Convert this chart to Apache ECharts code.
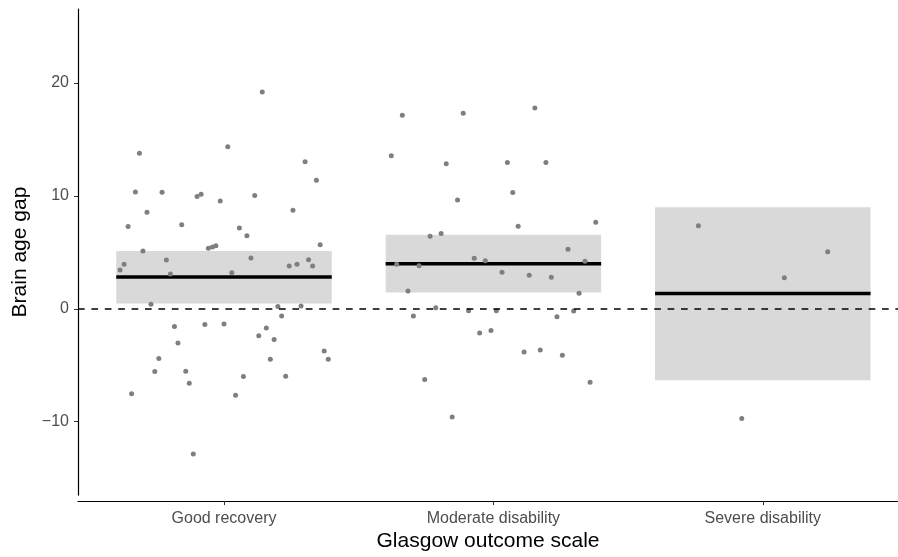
<!DOCTYPE html>
<html>
<head>
<meta charset="utf-8">
<script src="https://cdn.jsdelivr.net/npm/echarts@6/dist/echarts.min.js"></script>
<style>
html, body { margin: 0; padding: 0; background: #fff; }
#chart { width: 898px; height: 557px; }
</style>
</head>
<body>
<div id="chart"></div>
<script>
var categories = ['Good recovery', 'Moderate disability', 'Severe disability'];
var means  = [2.82, 4.00, 1.35];
var lowers = [0.47, 1.44, -6.33];
var uppers = [5.12, 6.56, 9.00];
var yTicks = [-10, 0, 10, 20];

// jittered x (category position) and brain age gap per subject
var goodX = [1.142, 0.686, 1.014, 1.301, 1.343, 0.671, 0.770, 0.900, 0.915, 0.986, 1.114,
  0.714, 1.256, 0.644, 0.843, 1.057, 1.085, 1.357, 0.942, 0.957, 0.970, 0.699, 0.786, 1.100,
  0.629, 1.242, 1.271, 1.314, 1.329, 0.614, 0.801, 1.029, 0.729, 1.200, 1.286, 1.214, 0.816,
  0.929, 1.000, 1.157, 1.129, 1.186, 0.829, 1.372, 1.387, 0.758, 1.172, 0.743, 0.858, 1.072,
  1.229, 0.871, 0.657, 1.043, 0.886];
var goodY = [19.21, 13.79, 14.36, 13.03, 11.38, 10.35, 10.32, 9.94, 10.15, 9.56, 10.03,
  8.56, 8.74, 7.30, 7.44, 7.17, 6.47, 5.67, 5.36, 5.47, 5.59, 5.12, 4.32, 4.50,
  3.94, 3.79, 3.94, 4.35, 3.79, 3.44, 3.09, 3.20, 0.41, 0.20, 0.24, -0.64, -1.56,
  -1.39, -1.35, -1.70, -2.38, -2.71, -3.03, -3.73, -4.47, -4.41, -4.47, -5.56, -5.53, -6.00,
  -5.97, -6.59, -7.53, -7.65, -12.86];

var moderateX = [1.662, 1.888, 2.154, 1.621, 1.825, 2.052, 2.195, 1.867, 2.072, 2.092, 2.380,
  1.765, 1.806, 2.277, 1.929, 1.970, 1.641, 1.724, 2.340, 2.032, 2.133, 2.215, 1.683, 2.318,
  1.786, 1.908, 2.011, 2.298, 1.703, 2.236, 1.949, 1.991, 2.114, 2.174, 2.256, 1.745, 2.359, 1.847];
var moderateY = [17.15, 17.32, 17.80, 13.56, 12.86, 12.97, 12.97, 9.64, 10.30, 7.32, 7.68,
  6.44, 6.68, 5.27, 4.47, 4.26, 3.94, 3.82, 4.21, 3.24, 2.97, 2.80, 1.59, 1.39,
  0.09, -0.18, -0.18, -0.20, -0.64, -0.71, -2.14, -1.91, -3.82, -3.64, -4.12, -6.26, -6.50, -9.59];

var severeX = [2.761, 3.241, 3.080, 2.922];
var severeY = [7.35, 5.06, 2.76, -9.71];

function pairs(xs, ys) {
  return xs.map(function (x, i) { return [x, ys[i]]; });
}
var points = pairs(goodX, goodY).concat(pairs(moderateX, moderateY), pairs(severeX, severeY));

var boxData = categories.map(function (c, i) {
  return [i + 1, means[i], lowers[i], uppers[i]];
});

var font = 'Liberation Sans, Arial, Helvetica, sans-serif';
var myChart = echarts.init(document.getElementById('chart'));

var option = {
  animation: false,
  backgroundColor: '#fff',
  grid: { left: 78, right: 0, top: 9, bottom: 60 },
  xAxis: {
    type: 'value',
    min: 0.458,
    max: 3.502,
    offset: 6,
    name: 'Glasgow outcome scale',
    nameLocation: 'middle',
    nameGap: 29,
    nameTextStyle: { color: '#000', fontSize: 21, fontFamily: font },
    axisLine: { show: true, onZero: false, lineStyle: { color: '#000', width: 1.2 } },
    axisTick: { show: true, length: 4, customValues: [1, 2, 3], lineStyle: { color: '#333' } },
    axisLabel: {
      customValues: [1, 2, 3],
      margin: 9,
      color: '#4d4d4d',
      fontSize: 16,
      fontFamily: font,
      formatter: function (v) { return categories[Math.round(v) - 1]; }
    },
    splitLine: { show: false }
  },
  yAxis: {
    type: 'value',
    min: -16.5,
    max: 26.56,
    name: 'Brain age gap',
    nameLocation: 'middle',
    nameGap: 46,
    nameTextStyle: { color: '#000', fontSize: 21, fontFamily: font },
    axisLine: { show: true, onZero: false, lineStyle: { color: '#000', width: 1.2 } },
    axisTick: { show: true, length: 4, customValues: yTicks, lineStyle: { color: '#333' } },
    axisLabel: {
      customValues: yTicks,
      margin: 9,
      color: '#4d4d4d',
      fontSize: 16,
      fontFamily: font,
      formatter: function (v) { return String(v).replace('-', '\u2212'); }
    },
    splitLine: { show: false }
  },
  series: [
    {
      type: 'custom',
      z: 1,
      silent: true,
      encode: { x: 0, y: [1, 2, 3] },
      data: boxData,
      renderItem: function (params, api) {
        var c = api.value(0);
        var lo = api.coord([c - 0.4, api.value(2)]);
        var hi = api.coord([c + 0.4, api.value(3)]);
        var m1 = api.coord([c - 0.4, api.value(1)]);
        var m2 = api.coord([c + 0.4, api.value(1)]);
        return {
          type: 'group',
          children: [
            { type: 'rect', shape: { x: lo[0], y: hi[1], width: hi[0] - lo[0], height: lo[1] - hi[1] },
              style: { fill: '#d9d9d9' } },
            { type: 'line', shape: { x1: m1[0], y1: m1[1], x2: m2[0], y2: m2[1] },
              style: { stroke: '#000', lineWidth: 3.5 } }
          ]
        };
      }
    },
    {
      type: 'line',
      z: 2,
      data: [],
      silent: true,
      markLine: {
        silent: true,
        symbol: 'none',
        label: { show: false },
        lineStyle: { color: '#000', width: 1.6, type: [6.7, 6.7] },
        data: [{ yAxis: 0 }]
      }
    },
    {
      type: 'scatter',
      z: 3,
      symbolSize: 5,
      itemStyle: { color: '#7f7f7f', opacity: 1 },
      data: points
    }
  ]
};
myChart.setOption(option);
window.onresize = function () { myChart.resize(); };
</script>
</body>
</html>
